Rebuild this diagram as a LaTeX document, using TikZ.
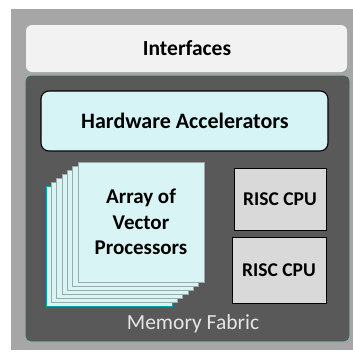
\documentclass[tikz,border=0pt]{standalone}
\usepackage{fontspec}
\setmainfont{Carlito}
\definecolor{frame}{HTML}{A6A6A6}
\definecolor{fabric}{HTML}{595959}
\definecolor{fabricedge}{HTML}{2E6B68}
\definecolor{paper}{HTML}{F2F2F2}
\definecolor{accel}{HTML}{D6F4F5}
\definecolor{layer}{HTML}{D9F4F4}
\definecolor{layeredge}{HTML}{9AAAAA}
\definecolor{cpu}{HTML}{D9D9D9}
\definecolor{fabrictext}{HTML}{E6E6E6}
\tikzset{
  label/.style={font=\fontsize{21}{25.5}\selectfont\bfseries, text=black, align=center},
  cpulabel/.style={font=\fontsize{19.5}{22}\selectfont\bfseries, text=black},
  cpubox/.style={draw=black, line width=0.9pt, fill=cpu},
  layerbox/.style={draw=layeredge, line width=0.5pt, fill=layer},
}
\begin{document}
\begin{tikzpicture}[x=1pt,y=-1pt]
\useasboundingbox (0,0) rectangle (353,351);
\fill[white] (0,0) rectangle (353,351);
% outer frame
\fill[frame] (11,9) rectangle (353,350);
% interfaces bar
\fill[paper, rounded corners=6pt] (26,25) rectangle (347,72);
\node[label, font=\fontsize{21.5}{25}\selectfont\bfseries] (ifc) at (187,48.5) {Interfaces};
% memory fabric
\draw[fabricedge, fill=fabric, line width=0.8pt, rounded corners=5pt] (26,76) rectangle (349,341);
\node[font=\fontsize{21.5}{25}\selectfont, text=fabrictext] (mem) at (193,324) {Memory Fabric};
% hardware accelerators
\draw[fill=accel, draw=black, line width=1.1pt, rounded corners=8pt] (41,91) rectangle (328,151);
\node[label, font=\fontsize{22}{25}\selectfont\bfseries] (hwa) at (185,121) {Hardware Accelerators};
% stacked vector processors, back to front
\draw[layerbox, draw=teal!70!cyan, line width=0.9pt] (46,186) rectangle ++(126,120);
\foreach \i in {1,...,6} {
  \draw[layerbox] ({46+\i*32/6},{186-\i*4}) rectangle ++(126,120);
}
\node[label] (vec) at (141,222) {Array of\\Vector\\Processors};
% RISC cores
\node[cpubox, minimum width=92pt, minimum height=62pt, inner sep=0pt] (cpu1) at (280,199) {};
\node[cpulabel] at (cpu1) {RISC CPU};
\node[cpubox, minimum width=94pt, minimum height=66pt, inner sep=0pt] (cpu2) at (279,270) {};
\node[cpulabel] at (cpu2) {RISC CPU};
\end{tikzpicture}
\end{document}
